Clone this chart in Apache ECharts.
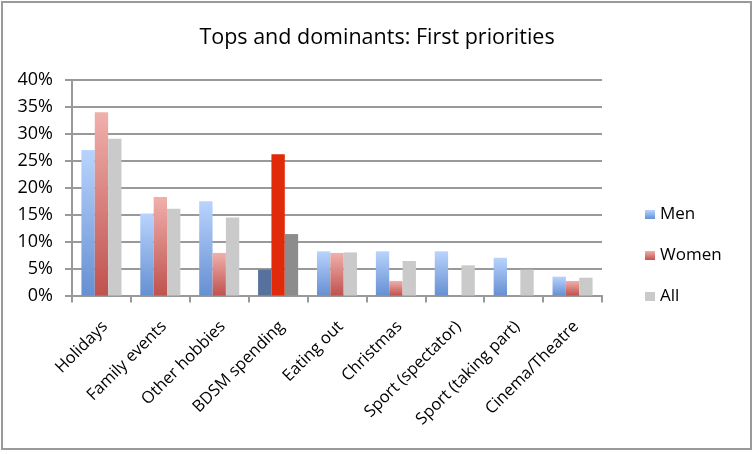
<!DOCTYPE html>
<html><head><meta charset="utf-8">
<script src="https://cdn.jsdelivr.net/npm/echarts@6/dist/echarts.min.js"></script>
<style>html,body{margin:0;padding:0;background:#fff}#c{width:754px;height:454px}</style>
</head><body><div id="c"></div>
<script>
var categories = ["Holidays","Family events","Other hobbies","BDSM spending","Eating out","Christmas","Sport (spectator)","Sport (taking part)","Cinema/Theatre"];
var men   = [27.0, 15.2, 17.5, 4.8, 8.2, 8.2, 8.2, 7.0, 3.5];
var women = [34.0, 18.3, 7.9, 26.2, 7.9, 2.7, 0, 0, 2.7];
var all   = [29.1, 16.1, 14.5, 11.4, 8.0, 6.4, 5.6, 4.8, 3.3];
var yTicks = [0,5,10,15,20,25,30,35,40];
var highlightIndex = 3;

var chart = echarts.init(document.getElementById('c'));
var G = echarts.graphic.LinearGradient;
function grad(top, bottom){ return new G(0,0,0,1,[{offset:0,color:top},{offset:1,color:bottom}]); }
var menColor = grad('#b9d3fd','#6590d2');
var womenColor = grad('#f0b0ac','#bf524e');
var allColor = '#cacaca';
function build(arr, hl){
  return arr.map(function(v,i){
    if(i===highlightIndex) return {value:v,itemStyle:{color:hl}};
    return v;
  });
}
var font = '"Open Sans", sans-serif';
chart.setOption({
  animation:false,
  backgroundColor:'#fff',
  title:{text:'Tops and dominants: First priorities',left:'center',top:22,
    textStyle:{fontFamily:font,fontSize:21.5,fontWeight:'normal',color:'#000'}},
  graphic:[{type:'rect',shape:{x:2,y:2,width:749,height:447},
    style:{fill:'none',stroke:'#9a9a9a',lineWidth:2}}],
  legend:{orient:'vertical',left:640,top:201,itemWidth:10,itemHeight:9,itemGap:24,
    icon:'rect',textStyle:{fontFamily:font,fontSize:17,color:'#000'},
    data:['Men','Women','All']},
  grid:{left:72,right:152,top:80,bottom:158.5,containLabel:false},
  xAxis:{type:'category',data:categories,
    axisLine:{lineStyle:{color:'#999',width:2}},
    axisTick:{show:true,length:7,lineStyle:{color:'#999',width:2},alignWithLabel:false},
    axisLabel:{rotate:45,interval:0,margin:32,padding:[0,-5,0,0],fontFamily:font,fontSize:16.5,color:'#000'}},
  yAxis:{type:'value',min:0,max:40,interval:5,
    axisLine:{show:true,lineStyle:{color:'#999',width:2}},
    axisTick:{show:true,length:7,lineStyle:{color:'#999',width:2}},
    splitLine:{lineStyle:{color:'#999',width:2}},
    axisLabel:{formatter:function(v){return v+'%';},margin:19,fontFamily:font,fontSize:18,color:'#000'}},
  series:[
    {name:'Men',type:'bar',data:build(men,'#56719b'),itemStyle:{color:menColor},barGap:'0%',barCategoryGap:'32%'},
    {name:'Women',type:'bar',data:build(women,'#e02a0a'),itemStyle:{color:womenColor}},
    {name:'All',type:'bar',data:build(all,'#8c8c8c'),itemStyle:{color:allColor}}
  ]
});
</script></body></html>
